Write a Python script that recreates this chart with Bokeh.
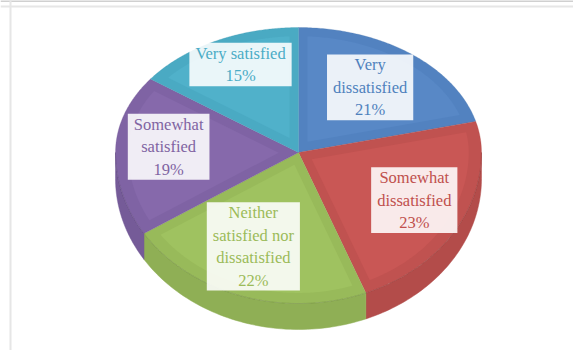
import numpy as np
from bokeh.plotting import figure
from bokeh.models import Range1d, Span, ColumnDataSource
from bokeh.core.properties import value
from bokeh.embed import file_html
from bokeh.resources import INLINE

# ---- data ----
categories = ["Very dissatisfied", "Somewhat dissatisfied",
              "Neither satisfied nor dissatisfied", "Somewhat satisfied",
              "Very satisfied"]
label_names = ["Very\ndissatisfied", "Somewhat\ndissatisfied",
               "Neither\nsatisfied nor\ndissatisfied", "Somewhat\nsatisfied",
               "Very satisfied"]
shares = [21, 23, 22, 19, 15]

# ---- style ----
top_colors = ["#5888C6", "#C95755", "#9FC260", "#8669AB", "#50B1CA"]
band_colors = ["#5282C0", "#C05250", "#98BA5A", "#7F63A4", "#4AAAC3"]
side_colors = ["#4D79AE", "#B34C4A", "#8FAF55", "#755B98", "#449DB5"]
text_colors = ["#4F81BD", "#C0504D", "#9BBB59", "#8064A2", "#4BACC6"]
label_dx = [-8, 0, -5, 0, 1]     # label nudges (px)
label_dy = [5, -1, -8, -3, -9]

W, H = 573, 350
CX, CY = 298, 152          # apex of the projected pie
A, B_UP, B_DN = 183, 125, 151
DEPTH = 26
RIM = 0.93                  # bevel inner scale
EDGE_W = 9                  # bevel width along radial edges
LABEL_R = 0.71


def pt(t, s=1.0):
    r = np.radians(np.asarray(t, dtype=float))
    b = np.where(np.sin(r) >= 0, B_UP, B_DN)
    return CX + s * A * np.cos(r), CY - s * b * np.sin(r)


def clip(poly, p0, n, w):
    out = []
    m = len(poly)
    for i in range(m):
        cur, nxt = poly[i], poly[(i + 1) % m]
        dc = (cur[0] - p0[0]) * n[0] + (cur[1] - p0[1]) * n[1] - w
        dn = (nxt[0] - p0[0]) * n[0] + (nxt[1] - p0[1]) * n[1] - w
        if dc >= 0:
            out.append(cur)
        if (dc >= 0) != (dn >= 0):
            f = dc / (dc - dn)
            out.append((cur[0] + f * (nxt[0] - cur[0]), cur[1] + f * (nxt[1] - cur[1])))
    return out


total = float(sum(shares))
cum = np.concatenate([[0.0], np.cumsum(shares) / total])
t_start = 90 - 360 * cum[:-1]
t_end = 90 - 360 * cum[1:]

p = figure(width=W, height=H, x_range=Range1d(0, W), y_range=Range1d(H, 0),
           toolbar_location=None, output_backend="svg", min_border=0,
           x_axis_location=None, y_axis_location=None)
p.grid.visible = False
p.outline_line_color = None
p.background_fill_color = "white"
p.border_fill_color = "white"

# frame
p.add_layout(Span(location=0.5, dimension="width", line_color="#D0D0D0", line_width=2))
p.add_layout(Span(location=6, dimension="width", line_color="#E6E6E6", line_width=2))
p.add_layout(Span(location=10, dimension="height", line_color="#E6E6E6", line_width=2))

# sides (front half only)
sx, sy, sc = [], [], []
for i in range(len(shares)):
    lo = max(t_end[i], -180.0)
    hi = min(t_start[i], 0.0)
    if hi <= lo:
        continue
    ts = np.linspace(hi, lo, 60)
    x, y = pt(ts)
    sx.append(list(x) + list(x[::-1]))
    sy.append(list(y) + list((y + DEPTH)[::-1]))
    sc.append(side_colors[i])
p.patches(sx, sy, fill_color=sc, line_color=sc, line_width=0.5)

# top faces
fx, fy, fc = [], [], []
ix, iy, ic = [], [], []
for i in range(len(shares)):
    ts = np.linspace(t_start[i], t_end[i], 120)
    x, y = pt(ts)
    fx.append([CX] + list(x))
    fy.append([CY] + list(y))
    fc.append(band_colors[i])
    # inner bevel region
    xi, yi = pt(ts, RIM)
    poly = [(CX, CY)] + list(zip(xi, yi))
    p1 = np.array([x[0] - CX, y[0] - CY]); p1 /= np.hypot(*p1)
    p2 = np.array([x[-1] - CX, y[-1] - CY]); p2 /= np.hypot(*p2)
    n1 = p2 - np.dot(p2, p1) * p1; n1 /= np.hypot(*n1)
    n2 = p1 - np.dot(p1, p2) * p2; n2 /= np.hypot(*n2)
    poly = clip(poly, (CX, CY), n1, EDGE_W)
    poly = clip(poly, (CX, CY), n2, EDGE_W)
    ix.append([q[0] for q in poly])
    iy.append([q[1] for q in poly])
    ic.append(top_colors[i])
p.patches(fx, fy, fill_color=fc, line_color=side_colors, line_alpha=0.35, line_width=0.8)
p.patches(ix, iy, fill_color=ic, line_color=None)

# rim line between top face and side
tr = np.linspace(0, -180, 200)
rx, ry = pt(tr)
p.line(rx, ry, line_color="#000000", line_alpha=0.1, line_width=1)

# labels
mid = (t_start + t_end) / 2
lx, ly = pt(mid, LABEL_R)
lx = lx + np.array(label_dx)
ly = ly + np.array(label_dy)
texts = [f"{n}\n{round(100 * s / total)}%" for n, s in zip(label_names, shares)]
src = ColumnDataSource(dict(x=lx, y=ly, text=texts, color=text_colors))
p.text(x="x", y="y", text="text", source=src, text_align="center",
       text_baseline="middle", text_font=value("Liberation Serif"),
       text_font_size="16.5px", text_color="color", text_line_height=1.18,
       background_fill_color="white", background_fill_alpha=0.88,
       padding=(6, 1))

open("out.html", "w").write(file_html(p, INLINE))
